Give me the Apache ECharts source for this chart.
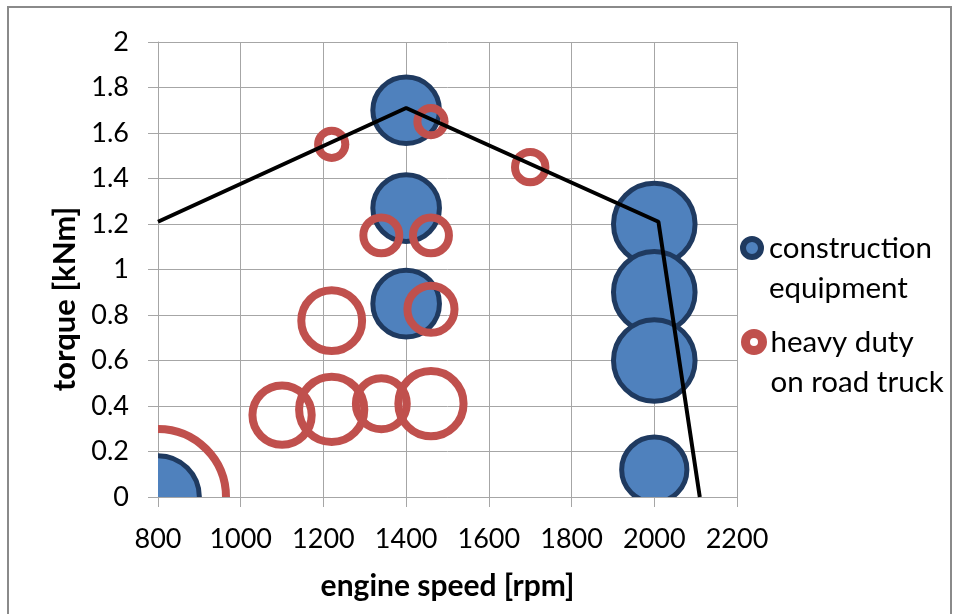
<!DOCTYPE html>
<html>
<head>
<meta charset="utf-8">
<script src="https://cdn.jsdelivr.net/npm/echarts@6/dist/echarts.min.js"></script>
<style>
html,body{margin:0;padding:0;background:#fff;}
#chart{width:957px;height:614px;}
</style>
</head>
<body>
<div id="chart"></div>
<script>
// ---- data ----
const SERIES_NAMES = ['construction equipment', 'heavy duty on road truck'];
const LEGEND_LABELS = ['construction\nequipment', 'heavy duty\non road truck'];
// [engine speed rpm, torque kNm, bubble size]
const constructionEquipment = [
  [800, 0, 37],
  [1400, 1.70, 24],
  [1400, 1.27, 24],
  [1400, 0.85, 24],
  [2000, 1.20, 36],
  [2000, 0.90, 36],
  [2000, 0.60, 36],
  [2000, 0.12, 23]
];
const heavyDutyTruck = [
  [800, 0, 100],
  [1100, 0.36, 19],
  [1220, 0.385, 23],
  [1340, 0.41, 14],
  [1460, 0.41, 23],
  [1220, 0.775, 20],
  [1460, 0.825, 12],
  [1340, 1.15, 7],
  [1460, 1.15, 7],
  [1220, 1.55, 4],
  [1460, 1.65, 4],
  [1700, 1.45, 5]
];
// full-load torque curve
const fullLoadCurve = [
  [800, 1.21],
  [1400, 1.71],
  [2010, 1.21],
  [2110, 0]
];
const X_TICK_LABELS = ['800','1000','1200','1400','1600','1800','2000','2200'];
const Y_TICK_LABELS = ['0','0.2','0.4','0.6','0.8','1','1.2','1.4','1.6','1.8','2'];

// ---- styling ----
const FONT = 'Lato';
const BLUE = '#4F81BD', BLUE_EDGE = '#1F3A60', RED = '#C0504D';
const GRID_COLOR = '#a6a6a6';
const SIZE_MAX = 100, R_MAX = 68;
function radius(size) { return R_MAX * Math.sqrt(size / SIZE_MAX); }

function bubbleRenderer(fill, stroke, lineWidth) {
  return function (params, api) {
    const p = api.coord([api.value(0), api.value(1)]);
    return {
      type: 'circle',
      shape: { cx: p[0], cy: p[1], r: radius(api.value(2)) },
      style: { fill: fill, stroke: stroke, lineWidth: lineWidth }
    };
  };
}

const chart = echarts.init(document.getElementById('chart'));
const option = {
  backgroundColor: '#fff',
  animation: false,
  textStyle: { fontFamily: FONT },
  graphic: [{
    type: 'rect', silent: true, z: -10,
    shape: { x: 8, y: 7, width: 943, height: 640 },
    style: { fill: 'none', stroke: '#8a8a8a', lineWidth: 2 }
  }],
  grid: { left: 158, right: 220, top: 42, bottom: 117, containLabel: false },
  legend: [{
    left: 740, top: 188, orient: 'vertical', padding: 0,
    itemWidth: 18, itemHeight: 18,
    selectedMode: false,
    textStyle: { fontSize: 29.5, fontFamily: FONT, color: '#000', lineHeight: 40, padding: [0, 0, 0, 3] },
    formatter: function () { return ' \n' + LEGEND_LABELS[0]; },
    data: [{ name: SERIES_NAMES[0], icon: 'circle',
      itemStyle: { color: BLUE, borderColor: BLUE_EDGE, borderWidth: 6 } }]
  }, {
    left: 741, top: 282, orient: 'vertical', padding: 0,
    itemWidth: 17, itemHeight: 17,
    selectedMode: false,
    textStyle: { fontSize: 29.5, fontFamily: FONT, color: '#000', lineHeight: 40, padding: [0, 0, 0, 3] },
    formatter: function () { return ' \n' + LEGEND_LABELS[1]; },
    data: [{ name: SERIES_NAMES[1], icon: 'circle',
      itemStyle: { color: '#fff', borderColor: RED, borderWidth: 9 } }]
  }],
  xAxis: {
    type: 'value',
    min: 800, max: 2200, interval: 200,
    name: 'engine speed [rpm]', nameLocation: 'middle', nameGap: 74,
    nameTextStyle: { fontSize: 30, fontWeight: 'bold', color: '#000', fontFamily: FONT },
    axisLine: { show: true, lineStyle: { color: GRID_COLOR, width: 1 } },
    axisTick: { show: true, length: 10, lineStyle: { color: GRID_COLOR, width: 1 } },
    splitLine: { show: true, lineStyle: { color: GRID_COLOR, width: 1 } },
    axisLabel: { fontSize: 27, color: '#000', margin: 29, fontFamily: FONT,
      formatter: function (v) { return X_TICK_LABELS[Math.round((v - 800) / 200)]; } }
  },
  yAxis: {
    type: 'value',
    min: 0, max: 2, interval: 0.2,
    name: 'torque [kNm]', nameLocation: 'middle', nameGap: 72, nameRotate: 90,
    nameTextStyle: { fontSize: 31, fontWeight: 'bold', color: '#000', fontFamily: FONT, padding: [0, 59, 0, 0] },
    axisLine: { show: true, lineStyle: { color: GRID_COLOR, width: 1 } },
    axisTick: { show: true, length: 10, lineStyle: { color: GRID_COLOR, width: 1 } },
    splitLine: { show: true, lineStyle: { color: GRID_COLOR, width: 1 } },
    axisLabel: { fontSize: 27, color: '#000', margin: 29, fontFamily: FONT,
      formatter: function (v) { return Y_TICK_LABELS[Math.round(v / 0.2)]; } }
  },
  series: [{
    name: SERIES_NAMES[0],
    type: 'custom',
    clip: true,
    z: 2,
    itemStyle: { color: BLUE, borderColor: BLUE_EDGE, borderWidth: 5 },
    renderItem: bubbleRenderer(BLUE, BLUE_EDGE, 5),
    encode: { x: 0, y: 1 },
    data: constructionEquipment
  }, {
    name: SERIES_NAMES[1],
    type: 'custom',
    clip: true,
    z: 3,
    itemStyle: { color: RED, borderColor: RED, borderWidth: 8 },
    renderItem: bubbleRenderer('none', RED, 8),
    encode: { x: 0, y: 1 },
    data: heavyDutyTruck
  }, {
    name: 'full load',
    type: 'line',
    z: 4,
    symbol: 'none',
    silent: true,
    lineStyle: { color: '#000', width: 4 },
    data: fullLoadCurve
  }]
};
chart.setOption(option);
</script>
</body>
</html>
